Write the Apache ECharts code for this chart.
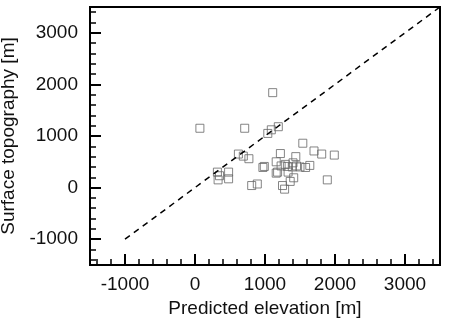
<!DOCTYPE html>
<html>
<head>
<meta charset="utf-8">
<script src="https://cdn.jsdelivr.net/npm/echarts@6/dist/echarts.min.js"></script>
<style>html,body{margin:0;padding:0;background:#fff}#c{width:450px;height:326px}</style>
</head>
<body>
<div id="c"></div>
<script>
// Data
var predicted = [70,710,1110,1040,1090,1190,620,690,770,320,350,330,480,480,810,890,970,990,1160,1220,1160,1180,1230,1250,1280,1360,1410,1330,1290,1320,1390,1400,1440,1450,1500,1580,1640,1540,1700,1810,1990,1890];
var surface   = [1150,1150,1840,1050,1120,1180,650,610,560,300,230,150,300,170,40,70,390,410,500,660,280,300,420,40,-30,120,190,300,450,410,400,480,600,420,400,390,430,860,710,650,630,150];
var refLineX = [-1000, 3500];
var refLineY = [-1000, 3500];
var majorTicks = [-1000, 0, 1000, 2000, 3000];
var axisMin = -1500, axisMax = 3500;
var minorTicks = [];
for (var v = -1400; v < axisMax; v += 200) { if (majorTicks.indexOf(v) < 0) minorTicks.push(v); }

var pts = predicted.map(function (x, i) { return [x, surface[i]]; });
var ref = refLineX.map(function (x, i) { return [x, refLineY[i]]; });
var font = "'Liberation Sans', Arial, Helvetica, sans-serif";

function mainAxis(name, gap, isY, nameSize) {
  return {
    type: 'value', min: axisMin, max: axisMax,
    position: isY ? 'left' : 'bottom',
    name: name, nameLocation: 'middle', nameGap: gap,
    nameTextStyle: { fontFamily: font, fontSize: nameSize, color: '#111' },
    splitLine: { show: false },
    axisLine: { show: false, onZero: false },
    axisTick: { show: true, inside: true, length: 11, customValues: majorTicks, lineStyle: { color: '#000', width: 2 } },
    axisLabel: { show: true, customValues: majorTicks, margin: isY ? 12 : 10, fontFamily: font, fontSize: 19, color: '#111',
      formatter: function (val) { return String(val); } }
  };
}
function minorAxis(isY) {
  return {
    type: 'value', min: axisMin, max: axisMax,
    position: isY ? 'left' : 'bottom',
    splitLine: { show: false },
    axisLine: { show: false, onZero: false },
    axisTick: { show: true, inside: true, length: 6, customValues: minorTicks, lineStyle: { color: '#000', width: 1.5 } },
    axisLabel: { show: false }
  };
}

var chart = echarts.init(document.getElementById('c'), null, { renderer: 'canvas' });
chart.setOption({
  animation: false,
  backgroundColor: '#fff',
  grid: { left: 90, right: 10, top: 7, bottom: 61, show: true, borderColor: '#000', borderWidth: 2, backgroundColor: 'transparent',
    containLabel: false, outerBoundsMode: 'none' },
  xAxis: [mainAxis('Predicted elevation [m]', 33, false, 19), minorAxis(false)],
  yAxis: [mainAxis('Surface topography [m]', 58, true, 19), minorAxis(true)],
  series: [
    {
      type: 'line', data: ref, symbol: 'none', silent: true,
      lineStyle: { color: '#000', width: 1.5, type: [6, 5] }
    },
    {
      type: 'scatter', data: pts, symbol: 'rect', symbolSize: 8,
      itemStyle: { color: 'rgba(0,0,0,0)', borderColor: '#666', borderWidth: 1 }
    }
  ]
});
</script>
</body>
</html>
